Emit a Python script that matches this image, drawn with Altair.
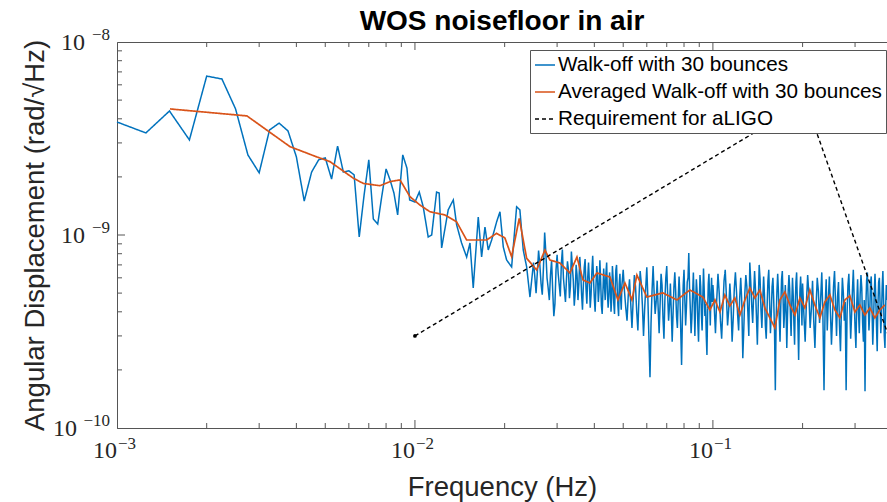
import altair as alt
import pandas as pd

# ---------------- data (amplitudes in units of 1e-10 rad/sqrt(Hz)) ----------------
SERIES = ["Walk-off with 30 bounces", "Averaged Walk-off with 30 bounces", "Requirement for aLIGO"]
UNIT = 1e-10

# blue: low-frequency part, read point by point
blue_f_low = [0.001, 0.00125, 0.0015, 0.00175, 0.002, 0.00225, 0.0025, 0.00275, 0.003, 0.00325,
              0.0035, 0.00375, 0.004, 0.00425, 0.0045, 0.00475, 0.005, 0.00525, 0.0055, 0.00575,
              0.006, 0.00625, 0.0065, 0.00675, 0.007, 0.00725, 0.0075, 0.00775, 0.008, 0.00825,
              0.0085, 0.00875, 0.0091, 0.0094, 0.0096, 0.01,
              0.01034, 0.01066, 0.01108, 0.01138, 0.01182, 0.01206, 0.01229, 0.01293, 0.01345, 0.0138,
              0.01434, 0.01491, 0.0153, 0.01569, 0.01631, 0.01674, 0.01718, 0.01762, 0.01809, 0.0188,
              0.01929, 0.01979, 0.02031, 0.02111, 0.02194, 0.0225, 0.02309, 0.02371, 0.02432]
blue_v_low = [38.5, 33.8, 43.9, 31.1, 66.6, 64.3, 45.0, 26.0, 21.0, 35.0,
              38.0, 34.6, 25.4, 15.0, 21.2, 24.5, 25.1, 19.5, 28.9, 21.2,
              21.5, 20.5, 9.76, 16.1, 24.5, 12.1, 11.4, 16.1, 22.0, 19.3,
              16.5, 12.7, 26.0, 22.2, 15.2, 14.8,
              16.7, 14.0, 9.76, 10.0, 16.7, 16.5, 8.57, 13.5, 15.2, 11.3,
              9.09, 7.69, 9.09, 5.32, 12.4, 7.69, 11.0, 8.36, 9.42, 11.7,
              13.2, 8.67, 7.42, 6.83, 14.0, 13.5, 8.36, 6.83, 4.77]

# blue: dense part, on frequency bins (start, step) with read amplitudes
segA_start, segA_step = 0.025, 0.00025
segA_v = [7.2, 6.1, 5.0, 6.4, 8.3, 7.0, 5.6, 4.9, 6.8, 10.3,
          8.1, 6.0, 5.3, 4.6, 6.2, 7.4, 5.1, 3.8, 4.4, 6.6,
          7.9, 6.3, 5.5, 4.8, 7.1, 8.4, 6.0, 5.2, 4.5, 5.9,
          7.3, 6.6, 4.7, 5.4, 8.2, 6.9, 5.8, 4.3, 5.0, 7.0,
          6.2, 4.6, 5.6, 7.7, 6.4, 4.9, 4.1, 5.5, 6.8, 7.5,
          5.3, 4.4, 6.0, 7.2, 5.7, 4.2, 4.9, 6.5, 7.8, 5.9,
          4.7, 4.0, 5.4, 6.9, 6.1, 4.5, 5.2, 7.4, 5.8, 4.3,
          3.9, 5.1, 6.7, 5.5, 4.6, 6.3, 7.2, 5.0, 4.2, 4.8,
          6.4, 5.6, 4.0, 4.7, 6.9, 5.9, 4.4, 3.9, 5.3, 6.6,
          7.0, 5.2, 4.3, 3.8, 5.6, 6.3, 4.8, 4.1, 5.5, 6.0]
segB_start, segB_step = 0.050, 0.0005
segB_v = [6.6, 5.1, 4.2, 3.6, 4.9, 5.9, 4.4, 3.3, 4.6, 6.2,
          5.4, 4.0, 3.2, 4.8, 6.5, 5.6, 4.3, 3.0, 4.1, 5.3,
          6.8, 4.7, 2.9, 1.83, 3.5, 5.2, 6.9, 5.0, 3.9, 4.5,
          5.8, 4.2, 3.1, 4.4, 6.3, 5.5, 3.7, 2.9, 4.6, 6.0,
          6.9, 4.9, 3.6, 4.3, 5.6, 4.0, 2.8, 3.9, 5.4, 6.4,
          5.1, 3.8, 3.3, 4.7, 6.1, 4.8, 3.2, 2.12, 3.6, 5.5,
          6.6, 4.6, 3.4, 4.2, 5.7, 6.0, 8.06, 5.3, 4.1, 3.1,
          3.7, 5.0, 6.4, 4.5, 3.0, 4.4, 5.9, 5.1, 3.5, 2.8,
          4.3, 6.2, 5.4, 3.9, 3.2, 4.7, 6.7, 5.2, 3.8, 4.4,
          3.0, 2.39, 4.0, 5.6, 6.3, 4.6, 3.4, 4.9, 6.0, 4.5]
segC_start, segC_step = 0.100, 0.001
segC_v = [5.5, 4.3, 3.1, 4.6, 6.3, 5.0, 3.6, 2.9, 4.2, 5.8,
          6.6, 4.8, 3.4, 4.1, 5.6, 4.4, 2.8, 3.7, 5.3, 6.4,
          5.1, 3.9, 3.2, 4.7, 6.0, 4.5, 2.3, 3.3, 5.0, 6.2,
          5.4, 4.0, 3.0, 7.2, 5.7, 4.3, 3.5, 4.9, 6.5, 5.2,
          3.8, 2.7, 4.4, 7.0, 5.9, 4.1, 3.3, 4.6, 6.1, 4.8,
          3.4, 2.9, 4.2, 5.8, 6.6, 4.5, 3.1, 3.9, 5.4, 6.0,
          4.6, 3.2, 1.57, 3.6, 5.1, 6.3, 5.0, 3.7, 2.8, 4.3,
          5.9, 6.5, 4.7, 3.3, 4.0, 5.5, 4.2, 2.6, 3.8, 5.2,
          6.2, 5.3, 3.9, 3.0, 4.5, 6.0, 4.9, 3.5, 2.7, 4.4,
          5.7, 6.4, 4.6, 3.3, 2.25, 3.8, 5.2, 6.1, 4.8, 3.4]
segD_start, segD_step = 0.200, 0.002
segD_v = [5.6, 3.9, 2.8, 4.5, 6.2, 4.9, 3.3, 4.1, 5.8, 3.6,
          2.6, 4.3, 6.0, 5.1, 3.5, 4.7, 6.4, 3.8, 1.57, 4.2,
          5.9, 3.2, 4.6, 6.1, 4.0, 2.7, 3.7, 5.4, 6.5, 4.4,
          3.0, 4.8, 5.7, 3.4, 2.5, 4.1, 6.0, 5.0, 3.6, 4.5,
          1.57, 3.9, 5.5, 6.3, 4.3, 2.9, 3.8, 5.2, 6.6, 4.7,
          3.3, 2.6, 4.4, 5.9, 4.0, 3.1, 4.9, 6.2, 5.3, 3.5,
          2.8, 4.6, 1.55, 4.2, 5.8, 6.4, 4.5, 3.2, 3.9, 5.6,
          6.1, 4.1, 2.7, 3.6, 5.0, 6.3, 4.8, 3.4, 2.5, 4.3,
          5.7, 6.0, 4.4, 3.1, 3.8, 5.4, 6.5, 4.6, 3.0, 2.6,
          4.2, 5.5, 4.6]

# orange: averaged curve
orange_f = [0.001506, 0.00273, 0.003179, 0.003806, 0.004679, 0.005185, 0.006209, 0.006708, 0.007629, 0.008244,
            0.008908, 0.009621, 0.01039, 0.01123, 0.01261, 0.0138, 0.01491, 0.0174, 0.0188, 0.02004,
            0.02111, 0.02239, 0.02371, 0.02561, 0.02731, 0.02838, 0.03066, 0.03312, 0.03497, 0.03663,
            0.03866, 0.0408, 0.04512, 0.048, 0.05068, 0.05348, 0.05559, 0.06003, 0.06795, 0.07572,
            0.08372, 0.09257, 0.0977,
            0.1016, 0.1056, 0.1097, 0.1140, 0.1185, 0.1232, 0.1281, 0.1331, 0.1383, 0.1438,
            0.1494, 0.1553, 0.1615, 0.1678, 0.1744, 0.1813, 0.1885, 0.1959, 0.2036, 0.2116,
            0.2199, 0.2286, 0.2376, 0.2470, 0.2567, 0.2668, 0.2773, 0.2882, 0.2996, 0.3114,
            0.3236, 0.3364, 0.3496, 0.3634, 0.3777]
orange_v = [45.0, 41.4, 35.0, 28.7, 25.4, 24.0, 19.7, 18.5, 18.0, 18.9,
            19.3, 15.8, 14.3, 13.2, 12.7, 11.7, 9.42, 9.42, 10.2, 9.65,
            7.72, 12.2, 7.57, 6.59, 8.36, 7.42, 7.16, 6.36, 7.69, 5.85,
            5.64, 6.36, 6.06, 4.61, 5.64, 4.61, 6.20, 4.77, 5.01, 4.61,
            5.19, 4.77, 4.09,
            4.61, 3.99, 4.89, 4.29, 4.72, 3.85, 4.61, 5.32, 4.72, 5.19,
            4.19, 3.72, 3.30, 4.61, 5.07, 4.34, 3.85, 4.72, 4.19, 5.19,
            4.34, 3.72, 4.50, 4.89, 4.09, 3.72, 4.61, 4.84, 3.99, 4.34,
            3.85, 4.19, 3.72, 4.09, 4.34]

# requirement
req_f = [0.01, 0.205, 0.45]
req_v = [3.0, 49.0, 1.58]

# axis ticks and labels
x_decades = [0.001, 0.01, 0.1]
x_exps = ["−3", "−2", "−1"]
y_decades = [1e-10, 1e-9, 1e-8]
y_exps = ["−10", "−9", "−8"]
x_major = [0.01, 0.1]
x_minor = [0.002, 0.003, 0.004, 0.005, 0.006, 0.007, 0.008, 0.009,
           0.02, 0.03, 0.04, 0.05, 0.06, 0.07, 0.08, 0.09, 0.2, 0.3]
y_major = [1e-9]
y_minor = [2e-10, 3e-10, 4e-10, 5e-10, 6e-10, 7e-10, 8e-10, 9e-10,
           2e-9, 3e-9, 4e-9, 5e-9, 6e-9, 7e-9, 8e-9, 9e-9]

# ---------------- tables ----------------
def grid(start, step, n):
    return [round(start + step * i, 6) for i in range(n)]

blue_f = (blue_f_low + grid(segA_start, segA_step, len(segA_v)) + grid(segB_start, segB_step, len(segB_v))
          + grid(segC_start, segC_step, len(segC_v)) + grid(segD_start, segD_step, len(segD_v)))
blue_v = blue_v_low + segA_v + segB_v + segC_v + segD_v

df_blue = pd.DataFrame({"f": blue_f, "v": [x * UNIT for x in blue_v], "series": SERIES[0]})
df_orange = pd.DataFrame({"f": orange_f, "v": [x * UNIT for x in orange_v], "series": SERIES[1]})
df_req = pd.DataFrame({"f": req_f, "v": [x * UNIT for x in req_v], "series": SERIES[2]})

df_xmaj = pd.DataFrame({"f": x_major})
df_xmin = pd.DataFrame({"f": x_minor})
df_ymaj = pd.DataFrame({"v": y_major})
df_ymin = pd.DataFrame({"v": y_minor})
df_xlab = pd.DataFrame({"f": x_decades, "e": x_exps})
df_ylab = pd.DataFrame({"v": y_decades, "e": y_exps})

W, H = 770, 386
AX = "#555555"
TXT = "#262626"
SERIF = "Liberation Serif"

x_enc = alt.X(
    "f:Q",
    title="Frequency (Hz)",
    scale=alt.Scale(type="log", domain=[0.001, 0.384], nice=False),
    axis=alt.Axis(
        values=x_decades, ticks=False, labels=False, grid=False, domainColor=AX,
        titleFont="Liberation Sans", titleFontSize=27.5, titleFontWeight="normal",
        titleColor=TXT, titleX=W / 2, titleY=67, titleBaseline="alphabetic", titleAlign="center",
    ),
)
y_enc = alt.Y(
    "v:Q",
    title="Angular Displacement (rad/√Hz)",
    scale=alt.Scale(type="log", domain=[1e-10, 1e-8], nice=False),
    axis=alt.Axis(
        values=y_decades, ticks=False, labels=False, grid=False, domainColor=AX,
        titleFont="Liberation Sans", titleFontSize=27.5, titleFontWeight="normal",
        titleColor=TXT, titleX=-74, titleY=H / 2, titleAngle=270,
        titleBaseline="alphabetic", titleAlign="center",
    ),
)
color = alt.Color("series:N", scale=alt.Scale(domain=SERIES, range=["#0072BD", "#D95319", "#000000"]),
                  legend=alt.Legend(title=None))
dash = alt.StrokeDash("series:N", scale=alt.Scale(domain=SERIES, range=[[1, 0], [1, 0], [4, 3]]),
                      legend=alt.Legend(title=None))

tick_kw = dict(color=AX, strokeWidth=1)
xt_bot_maj = alt.Chart(df_xmaj).mark_rule(**tick_kw).encode(x=x_enc, y=alt.value(H), y2=alt.value(H - 8))
xt_bot_min = alt.Chart(df_xmin).mark_rule(**tick_kw).encode(x=x_enc, y=alt.value(H), y2=alt.value(H - 5))
xt_top_maj = alt.Chart(df_xmaj).mark_rule(**tick_kw).encode(x=x_enc, y=alt.value(0), y2=alt.value(8))
xt_top_min = alt.Chart(df_xmin).mark_rule(**tick_kw).encode(x=x_enc, y=alt.value(0), y2=alt.value(5))
yt_maj = alt.Chart(df_ymaj).mark_rule(**tick_kw).encode(y=y_enc, x=alt.value(0), x2=alt.value(8))
yt_min = alt.Chart(df_ymin).mark_rule(**tick_kw).encode(y=y_enc, x=alt.value(0), x2=alt.value(5))

# tick labels as "10" with a raised exponent
lab_kw = dict(font=SERIF, color=TXT, baseline="alphabetic")
xl_base = alt.Chart(df_xlab).mark_text(align="right", fontSize=24, **lab_kw).encode(
    x=x_enc, y=alt.value(H + 30), text=alt.value("10"))
xl_exp = alt.Chart(df_xlab).mark_text(align="left", fontSize=17, dx=1, **lab_kw).encode(
    x=x_enc, y=alt.value(H + 21), text="e:N")
yl_exp = alt.Chart(df_ylab).mark_text(align="right", fontSize=17, dy=-2, **lab_kw).encode(
    y=y_enc, x=alt.value(-7), text="e:N")
yl_base_a = alt.Chart(df_ylab).transform_filter("datum.v > 5e-10").mark_text(
    align="right", fontSize=24, dy=8, **lab_kw).encode(y=y_enc, x=alt.value(-32), text=alt.value("10"))
yl_base_b = alt.Chart(df_ylab).transform_filter("datum.v < 5e-10").mark_text(
    align="right", fontSize=24, dy=8, **lab_kw).encode(y=y_enc, x=alt.value(-40), text=alt.value("10"))

blue = alt.Chart(df_blue).mark_line(strokeWidth=1.5).encode(x=x_enc, y=y_enc, color=color, strokeDash=dash)
orange = alt.Chart(df_orange).mark_line(strokeWidth=1.7).encode(x=x_enc, y=y_enc, color=color, strokeDash=dash)
req = alt.Chart(df_req).mark_line(strokeWidth=1.4, clip=True).encode(x=x_enc, y=y_enc, color=color, strokeDash=dash)
req_pts = alt.Chart(df_req).mark_point(filled=True, size=14, color="black", opacity=1, clip=True).encode(x=x_enc, y=y_enc)

chart = alt.layer(
    xt_bot_maj, xt_bot_min, xt_top_maj, xt_top_min, yt_maj, yt_min,
    xl_base, xl_exp, yl_exp, yl_base_a, yl_base_b,
    blue, orange, req, req_pts,
).properties(
    width=W, height=H,
    autosize=alt.AutoSizeParams(type="none"),
    padding={"left": 117, "top": 42, "right": 0, "bottom": 74},
    title=alt.TitleParams("WOS noisefloor in air", font="Liberation Sans", fontSize=28,
                          fontWeight="bold", color="black", anchor="middle", offset=10, dy=20),
).configure_view(
    stroke=AX, strokeWidth=1
).configure_legend(
    orient="none", legendX=413, legendY=8,
    symbolType="stroke", symbolSize=400, symbolStrokeWidth=1.5,
    labelFont="Liberation Sans", labelFontSize=20.7, labelColor="black", labelOffset=2, labelLimit=400,
    padding=4, rowPadding=6, strokeColor=AX, fillColor="white", cornerRadius=0,
)

chart.save("out.html", embed_options={"renderer": "svg", "actions": False})
